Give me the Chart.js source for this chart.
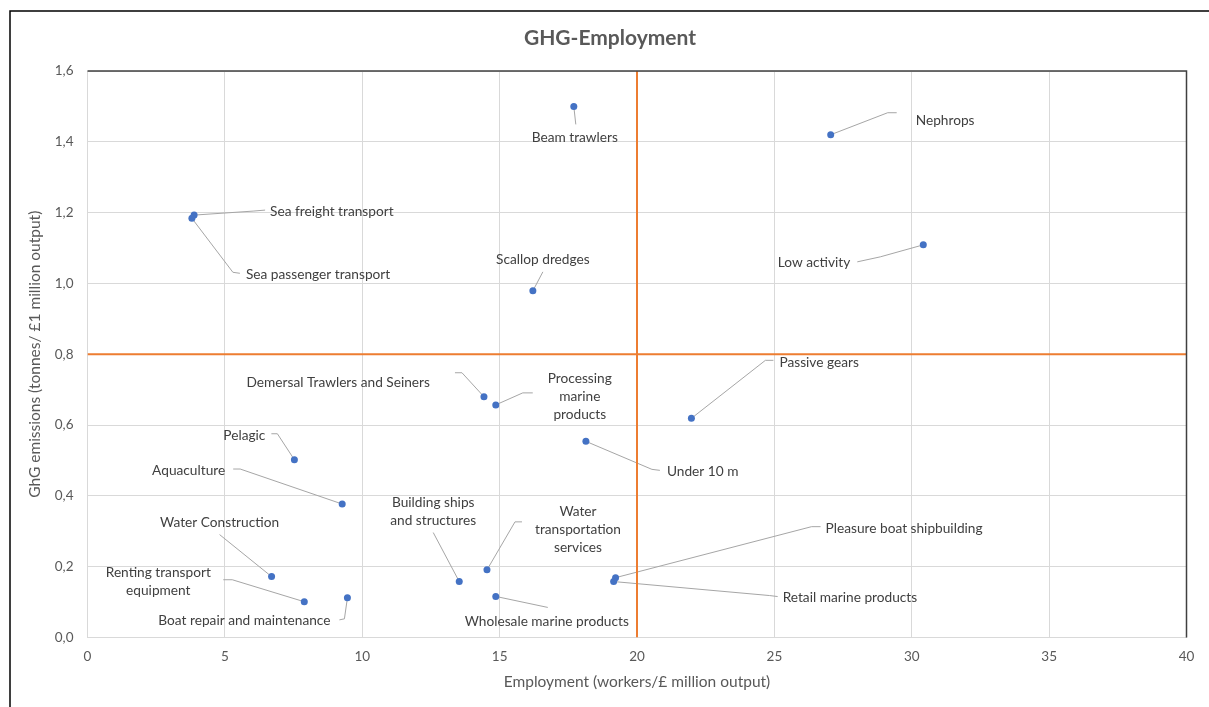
<!DOCTYPE html>
<html>
<head>
<meta charset="utf-8">
<script src="https://cdn.jsdelivr.net/npm/chart.js@4.4.1/dist/chart.umd.min.js"></script>
<style>
  body { margin: 0; background: #fff; }
  canvas { display: block; }
</style>
</head>
<body>
<canvas id="myChart" width="1209" height="707"></canvas>
<script>
// data
var sectors = [
    'Beam trawlers', 'Nephrops', 'Sea freight transport', 'Sea passenger transport',
    'Low activity', 'Scallop dredges', 'Demersal Trawlers and Seiners',
    'Processing\nmarine\nproducts', 'Passive gears', 'Under 10 m', 'Pelagic',
    'Aquaculture', 'Water Construction', 'Renting transport\nequipment',
    'Boat repair and maintenance', 'Building ships\nand structures',
    'Water\ntransportation\nservices', 'Wholesale marine products',
    'Pleasure boat shipbuilding', 'Retail marine products'
];
var employment = [17.7, 27.05, 3.88, 3.80, 30.42, 16.21, 14.43, 14.86, 21.98, 18.14,
    7.53, 9.27, 6.70, 7.89, 9.46, 13.53, 14.54, 14.86, 19.22, 19.15];
var ghg = [1.50, 1.42, 1.193, 1.184, 1.109, 0.979, 0.680, 0.657, 0.619, 0.554,
    0.502, 0.377, 0.172, 0.101, 0.112, 0.158, 0.191, 0.116, 0.169, 0.158];
var thresholdX = 20;
var thresholdY = 0.8;
var xRange = [0, 40];
var yRange = [0, 1.6];

// label placement, pixel offsets from each point: text anchor, leader end, leader tail
var labelLayout = [
    {dx: 1, dy: 31, align: 'center', lead: [2, 18]},
    {dx: 85, dy: -14, align: 'left', lead: [57, -22], tail: [66, -22]},
    {dx: 76, dy: -4, align: 'left', lead: [59, -4], tail: [71, -5]},
    {dx: 54, dy: 56, align: 'left', lead: [41, 54], tail: [48, 55]},
    {dx: -73, dy: 18, align: 'right', lead: [-43, 12], tail: [-66, 17]},
    {dx: 10, dy: -31, align: 'center', lead: [10, -19]},
    {dx: -54, dy: -14, align: 'right', lead: [-22, -24], tail: [-29, -24]},
    {dx: 84, dy: -8, align: 'center', lead: [27, -12], tail: [37, -12]},
    {dx: 88, dy: -56, align: 'left', lead: [74, -58], tail: [82, -58]},
    {dx: 81, dy: 30, align: 'left', lead: [66, 28], tail: [74, 29]},
    {dx: -29, dy: -24, align: 'right', lead: [-17, -26], tail: [-23, -26]},
    {dx: -117, dy: -33, align: 'right', lead: [-102, -35], tail: [-109, -35]},
    {dx: -52, dy: -54, align: 'center', lead: [-52, -42]},
    {dx: -146, dy: -20, align: 'center', lead: [-72, -22], tail: [-81, -22]},
    {dx: -103, dy: 23, align: 'center', lead: [-3, 21], tail: [-8, 22]},
    {dx: -26, dy: -70, align: 'center', lead: [-26, -49]},
    {dx: 91, dy: -40, align: 'center', lead: [28, -48], tail: [35, -48]},
    {dx: 51, dy: 25, align: 'center', lead: [52, 11]},
    {dx: 210, dy: -49, align: 'left', lead: [196, -51], tail: [205, -51]},
    {dx: 169, dy: 16, align: 'left', lead: [156, 14], tail: [164, 15]}
];

var FONT = 'Lato, "Open Sans", sans-serif';

function commaNum(v) {
    return Number(v).toFixed(1).replace('.', ',');
}

var pointLabels = {
    id: 'pointLabels',
    beforeDatasetsDraw: function(chart) {
        var ctx = chart.ctx;
        var meta = chart.getDatasetMeta(0);
        ctx.save();
        ctx.strokeStyle = '#a6a6a6';
        ctx.lineWidth = 1;
        meta.data.forEach(function(pt, i) {
            var l = labelLayout[i];
            ctx.beginPath();
            ctx.moveTo(pt.x, pt.y);
            ctx.lineTo(pt.x + l.lead[0], pt.y + l.lead[1]);
            if (l.tail) ctx.lineTo(pt.x + l.tail[0], pt.y + l.tail[1]);
            ctx.stroke();
        });
        ctx.restore();
    },
    afterDatasetsDraw: function(chart) {
        var ctx = chart.ctx;
        var meta = chart.getDatasetMeta(0);
        ctx.save();
        ctx.font = '13.7px ' + FONT;
        ctx.fillStyle = '#404040';
        ctx.textBaseline = 'middle';
        meta.data.forEach(function(pt, i) {
            var l = labelLayout[i];
            var lines = sectors[i].split('\n');
            var lh = 18;
            var y0 = pt.y + l.dy - (lines.length - 1) * lh / 2;
            ctx.textAlign = l.align;
            lines.forEach(function(s, k) {
                ctx.fillText(s, pt.x + l.dx, y0 + k * lh);
            });
        });
        ctx.restore();
    }
};

var frame = {
    id: 'frame',
    beforeDraw: function(chart) {
        var ctx = chart.ctx;
        ctx.save();
        ctx.fillStyle = '#fff';
        ctx.fillRect(0, 0, chart.width, chart.height);
        // outer frame
        ctx.strokeStyle = '#000';
        ctx.lineWidth = 1.5;
        ctx.beginPath();
        ctx.moveTo(10, chart.height);
        ctx.lineTo(10, 11);
        ctx.lineTo(chart.width, 11);
        ctx.stroke();
        // title
        ctx.fillStyle = '#595959';
        ctx.font = 'bold 21px ' + FONT;
        ctx.textAlign = 'center';
        ctx.textBaseline = 'middle';
        ctx.fillText('GHG-Employment', 610, 38);
        ctx.restore();
    },
    afterDraw: function(chart) {
        var a = chart.chartArea;
        var ctx = chart.ctx;
        ctx.save();
        ctx.strokeStyle = '#404040';
        ctx.lineWidth = 1.5;
        ctx.beginPath();
        ctx.moveTo(a.left, a.top);
        ctx.lineTo(a.right, a.top);
        ctx.lineTo(a.right, a.bottom);
        ctx.stroke();
        ctx.restore();
    }
};

function buildPoints() {
    return employment.map(function(x, i) { return {x: x, y: ghg[i]}; });
}

function init() {
    var ctx = document.getElementById('myChart').getContext('2d');
    new Chart(ctx, {
        type: 'scatter',
        data: {
            datasets: [{
                data: buildPoints(),
                backgroundColor: '#4472C4',
                borderColor: '#4472C4',
                pointRadius: 3.5,
                pointBorderWidth: 0
            }, {
                type: 'line',
                data: [{x: thresholdX, y: yRange[0]}, {x: thresholdX, y: yRange[1]}],
                borderColor: '#ED7D31',
                borderWidth: 2,
                pointRadius: 0
            }, {
                type: 'line',
                data: [{x: xRange[0], y: thresholdY}, {x: xRange[1], y: thresholdY}],
                borderColor: '#ED7D31',
                borderWidth: 2,
                pointRadius: 0
            }]
        },
        options: {
            responsive: false,
            animation: false,
            layout: {padding: {top: 71, right: 22.5, left: 0, bottom: 0}},
            plugins: {legend: {display: false}, tooltip: {enabled: false}},
            scales: {
                x: {
                    type: 'linear',
                    min: xRange[0], max: xRange[1],
                    ticks: {stepSize: 5, padding: 11, color: '#595959', font: {family: FONT, size: 13.5}},
                    grid: {color: '#d9d9d9', drawTicks: false},
                    border: {color: '#d9d9d9'},
                    title: {display: true, text: 'Employment (workers/£ million output)', color: '#595959',
                        font: {family: FONT, size: 15.5}, padding: {top: 0, bottom: 15.5}},
                    afterFit: function(s) { s.height = 69.5; }
                },
                y: {
                    min: yRange[0], max: yRange[1],
                    ticks: {stepSize: 0.2, padding: 14, color: '#595959', font: {family: FONT, size: 13.5},
                        callback: function(v) { return commaNum(v); }},
                    grid: {color: '#d9d9d9', drawTicks: false},
                    border: {color: '#d9d9d9'},
                    title: {display: true, text: 'GhG emissions (tonnes/ £1 million output)', color: '#595959',
                        font: {family: FONT, size: 15.5}, padding: {top: 25.5, bottom: 0}},
                    afterFit: function(s) { s.width = 87.5; }
                }
            }
        },
        plugins: [frame, pointLabels]
    });
}

init();
</script>
</body>
</html>
